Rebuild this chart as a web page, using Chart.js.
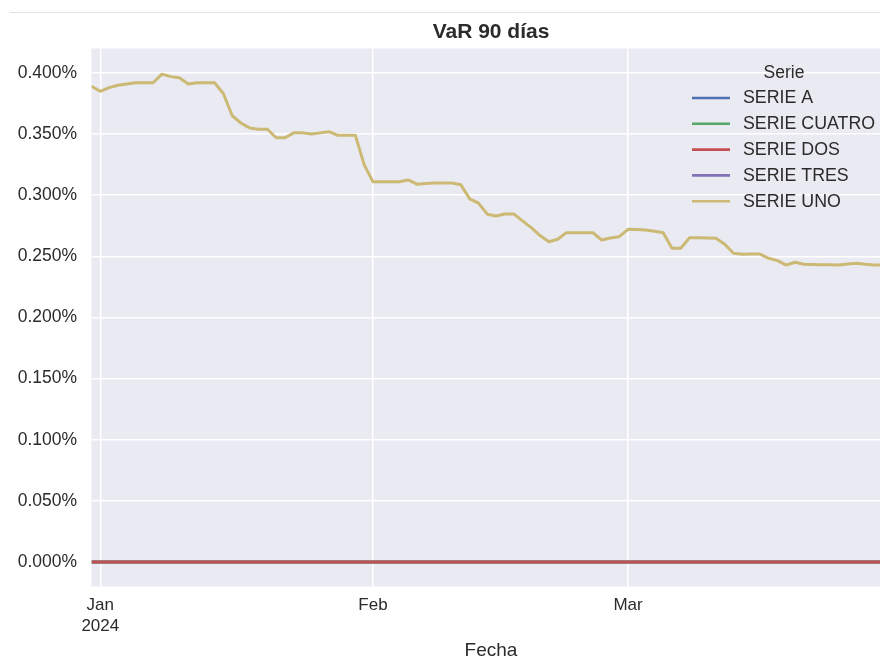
<!DOCTYPE html>
<html>
<head>
<meta charset="utf-8">
<script src="https://cdn.jsdelivr.net/npm/chart.js@4.4.0/dist/chart.umd.min.js"></script>
<style>
html,body{margin:0;padding:0;background:#ffffff;}
#wrap{position:relative;width:880px;height:660px;overflow:hidden;}
#topline{position:absolute;left:10px;top:12px;width:870px;height:1px;background:#e2e2e2;}
#c{position:absolute;left:0;top:0;}
</style>
</head>
<body>
<div id="wrap"><canvas id="c" width="880" height="660"></canvas><div id="topline"></div></div>
<script>
// ---------- DATA ----------
const chartTitle = "VaR 90 días";
const xAxisTitle = "Fecha";
const legendTitle = "Serie";

const fechas = [
"2023-12-31",
"2024-01-01","2024-01-02","2024-01-03","2024-01-04","2024-01-05","2024-01-06","2024-01-07","2024-01-08","2024-01-09","2024-01-10",
"2024-01-11","2024-01-12","2024-01-13","2024-01-14","2024-01-15","2024-01-16","2024-01-17","2024-01-18","2024-01-19","2024-01-20",
"2024-01-21","2024-01-22","2024-01-23","2024-01-24","2024-01-25","2024-01-26","2024-01-27","2024-01-28","2024-01-29","2024-01-30","2024-01-31",
"2024-02-01","2024-02-02","2024-02-03","2024-02-04","2024-02-05","2024-02-06","2024-02-07","2024-02-08","2024-02-09","2024-02-10",
"2024-02-11","2024-02-12","2024-02-13","2024-02-14","2024-02-15","2024-02-16","2024-02-17","2024-02-18","2024-02-19","2024-02-20",
"2024-02-21","2024-02-22","2024-02-23","2024-02-24","2024-02-25","2024-02-26","2024-02-27","2024-02-28","2024-02-29",
"2024-03-01","2024-03-02","2024-03-03","2024-03-04","2024-03-05","2024-03-06","2024-03-07","2024-03-08","2024-03-09","2024-03-10",
"2024-03-11","2024-03-12","2024-03-13","2024-03-14","2024-03-15","2024-03-16","2024-03-17","2024-03-18","2024-03-19","2024-03-20",
"2024-03-21","2024-03-22","2024-03-23","2024-03-24","2024-03-25","2024-03-26","2024-03-27","2024-03-28","2024-03-29","2024-03-30"
];

// values in percent
const serieUno = [
0.389,0.385,0.388,0.390,0.391,0.392,0.392,0.392,0.399,0.397,
0.396,0.391,0.392,0.392,0.392,0.383,0.365,0.359,0.355,0.354,
0.354,0.347,0.347,0.351,0.351,0.350,0.351,0.352,0.349,0.349,
0.349,0.325,0.311,0.311,0.311,0.311,0.3125,0.309,0.3095,0.310,
0.310,0.310,0.3085,0.297,0.2935,0.2845,0.283,0.2847,0.2847,0.279,
0.2735,0.267,0.262,0.264,0.2694,0.2694,0.2694,0.2694,0.2634,0.265,
0.2661,0.2721,0.272,0.2716,0.2705,0.2694,0.2566,0.2566,0.2653,0.2653,
0.2651,0.2648,0.2599,0.2525,0.2517,0.2519,0.2519,0.2484,0.2465,0.2429,
0.2452,0.2435,0.2433,0.2432,0.2431,0.2429,0.2438,0.2443,0.2435,0.2429,
0.243
];

const serieA = [
0,0,0,0,0,0,0,0,0,0,0,0,0,
0,0,0,0,0,0,0,0,0,0,0,0,0,
0,0,0,0,0,0,0,0,0,0,0,0,0,
0,0,0,0,0,0,0,0,0,0,0,0,0,
0,0,0,0,0,0,0,0,0,0,0,0,0,
0,0,0,0,0,0,0,0,0,0,0,0,0,
0,0,0,0,0,0,0,0,0,0,0,0,0
];
const serieCuatro = [
0,0,0,0,0,0,0,0,0,0,0,0,0,
0,0,0,0,0,0,0,0,0,0,0,0,0,
0,0,0,0,0,0,0,0,0,0,0,0,0,
0,0,0,0,0,0,0,0,0,0,0,0,0,
0,0,0,0,0,0,0,0,0,0,0,0,0,
0,0,0,0,0,0,0,0,0,0,0,0,0,
0,0,0,0,0,0,0,0,0,0,0,0,0
];
const serieDos = [
0,0,0,0,0,0,0,0,0,0,0,0,0,
0,0,0,0,0,0,0,0,0,0,0,0,0,
0,0,0,0,0,0,0,0,0,0,0,0,0,
0,0,0,0,0,0,0,0,0,0,0,0,0,
0,0,0,0,0,0,0,0,0,0,0,0,0,
0,0,0,0,0,0,0,0,0,0,0,0,0,
0,0,0,0,0,0,0,0,0,0,0,0,0
];
// SERIE TRES: no values (NaN) in the source
const serieTres = [
null,null,null,null,null,null,null,null,null,null,null,null,null,
null,null,null,null,null,null,null,null,null,null,null,null,null,
null,null,null,null,null,null,null,null,null,null,null,null,null,
null,null,null,null,null,null,null,null,null,null,null,null,null,
null,null,null,null,null,null,null,null,null,null,null,null,null,
null,null,null,null,null,null,null,null,null,null,null,null,null,
null,null,null,null,null,null,null,null,null,null,null,null,null
];

const seriesNames = ["SERIE A","SERIE CUATRO","SERIE DOS","SERIE TRES","SERIE UNO"];
const seriesValues = [serieA, serieCuatro, serieDos, serieTres, serieUno];
const seriesColors = ["#4C72B0","#55A868","#C44E52","#8172B3","#CCB974"];

const yTickValues = [0,0.05,0.10,0.15,0.20,0.25,0.30,0.35,0.40];
const xTickDates = ["2024-01-01","2024-02-01","2024-03-01"];
const xTickLabels = [["Jan","2024"],"Feb","Mar"];

// ---------- HELPERS ----------
const FONT = "'Liberation Sans', Arial, Helvetica, sans-serif";
const TEXT = "#2b2b2b";
const origin = Date.UTC(2024,0,1);
function toDay(s){ const p = s.split("-").map(Number); return (Date.UTC(p[0],p[1]-1,p[2]) - origin)/86400000; }
const xDays = fechas.map(toDay);
const xTickDays = xTickDates.map(toDay);

const datasets = seriesNames.map((name,i)=>({
  label: name,
  data: seriesValues[i].map((v,j)=>({x:xDays[j], y:v})),
  borderColor: seriesColors[i],
  backgroundColor: seriesColors[i],
  borderWidth: 3,
  pointRadius: 0,
  pointHoverRadius: 0,
  tension: 0,
  spanGaps: false,
  borderJoinStyle: "round",
  fill: false,
  order: seriesNames.length - 1 - i
}));

const decorPlugin = {
  id: "decor",
  beforeDraw(chart){
    const {ctx, chartArea:{left,top,right,bottom}} = chart;
    ctx.save();
    ctx.fillStyle = "#EAEAF2";
    ctx.fillRect(left, top, right-left, bottom-top);
    ctx.restore();
  },
  afterDraw(chart){
    const {ctx, chartArea:{left,top,right,bottom}} = chart;
    ctx.save();
    // title
    ctx.fillStyle = TEXT;
    ctx.textAlign = "center";
    ctx.textBaseline = "middle";
    ctx.font = "bold 21px " + FONT;
    ctx.fillText(chartTitle, 491, 32);
    // x axis title
    ctx.font = "19px " + FONT;
    ctx.fillText(xAxisTitle, 491, 651);
    // legend
    const lx = right - 188;
    ctx.font = "17.5px " + FONT;
    ctx.fillText(legendTitle, right - 96, 73);
    ctx.font = "17.8px " + FONT;
    ctx.textAlign = "left";
    seriesNames.forEach((name,i)=>{
      const y = 98 + i*25.8;
      ctx.strokeStyle = seriesColors[i];
      ctx.lineWidth = 2.6;
      ctx.beginPath();
      ctx.moveTo(lx, y);
      ctx.lineTo(lx + 38, y);
      ctx.stroke();
      ctx.fillStyle = TEXT;
      ctx.fillText(name, lx + 51, y + 0.5);
    });
    ctx.restore();
  }
};

new Chart(document.getElementById("c"), {
  type: "line",
  data: { datasets },
  options: {
    responsive: false,
    animation: false,
    devicePixelRatio: 1,
    layout: { padding: { top: 48.5, right: 0, bottom: 0, left: 0 } },
    plugins: {
      legend: { display: false },
      title: { display: false },
      tooltip: { enabled: false }
    },
    scales: {
      x: {
        type: "linear",
        min: toDay("2023-12-31"),
        max: toDay("2024-03-30") - 0.35,
        afterFit(scale){ scale.height = 73.5; },
        afterBuildTicks(scale){ scale.ticks = xTickDays.map(v=>({value:v})); },
        grid: { color: "#ffffff", lineWidth: 1.5, drawTicks: false },
        border: { display: false },
        ticks: {
          autoSkip: false,
          maxRotation: 0,
          padding: 8,
          color: TEXT,
          font: { family: FONT, size: 17, lineHeight: 1.235 },
          callback: (v, i) => xTickLabels[i]
        }
      },
      y: {
        type: "linear",
        min: -0.02,
        max: 0.42,
        afterFit(scale){ scale.width = 91.5; },
        afterBuildTicks(scale){ scale.ticks = yTickValues.map(v=>({value:v})); },
        grid: { color: "#ffffff", lineWidth: 1.5, drawTicks: false },
        border: { display: false },
        ticks: {
          padding: 14.5,
          color: TEXT,
          font: { family: FONT, size: 17.5 },
          callback: v => v.toFixed(3) + "%"
        }
      }
    }
  },
  plugins: [decorPlugin]
});
</script>
</body>
</html>
